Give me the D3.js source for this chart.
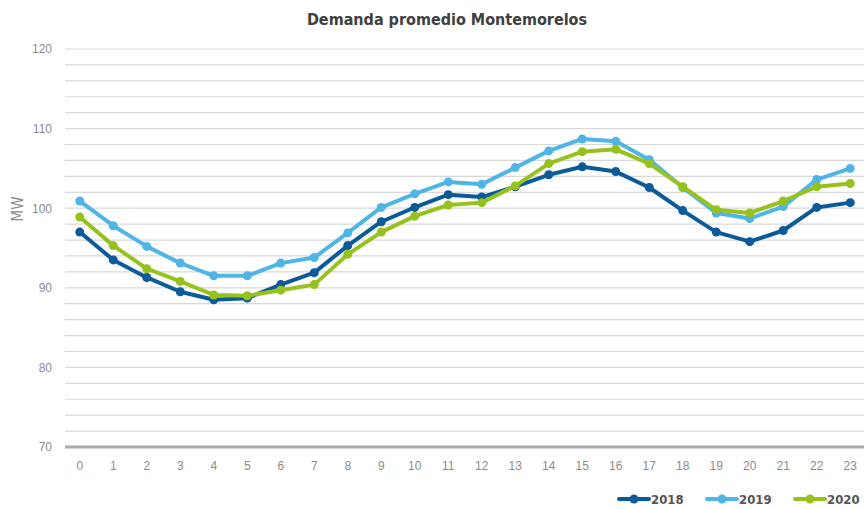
<!DOCTYPE html>
<html>
<head>
<meta charset="utf-8">
<script src="https://cdn.jsdelivr.net/npm/d3@7"></script>
<style>
    body { margin: 0; background: #fff; }
    svg { display: block; font-family: "DejaVu Sans Condensed", "DejaVu Sans", sans-serif; font-stretch: condensed; }
</style>
</head>
<body>
<svg id="chart" width="864" height="509"></svg>
<script>
//hours of the day
var hours = d3.range(0, 24);
var years = ["2018", "2019", "2020"];
var colors = ["#0b5a9a", "#4fb4e6", "#97c21d"];

//average demand (MW) per hour
var demand2018 = [97.0, 93.5, 91.3, 89.5, 88.5, 88.7, 90.4, 91.9, 95.3, 98.3, 100.1, 101.7,
    101.4, 102.7, 104.2, 105.2, 104.6, 102.6, 99.7, 97.0, 95.8, 97.2, 100.1, 100.7];
var demand2019 = [100.9, 97.8, 95.2, 93.1, 91.5, 91.5, 93.1, 93.8, 96.9, 100.1, 101.8, 103.3,
    103.0, 105.1, 107.2, 108.7, 108.4, 106.1, 102.6, 99.4, 98.7, 100.2, 103.6, 105.0];
var demand2020 = [98.9, 95.3, 92.4, 90.8, 89.1, 89.0, 89.7, 90.4, 94.2, 97.0, 99.0, 100.4,
    100.7, 102.8, 105.6, 107.1, 107.4, 105.6, 102.7, 99.8, 99.4, 100.9, 102.7, 103.1];

var yTicks = [70, 80, 90, 100, 110, 120];

var series = [demand2018, demand2019, demand2020];

var svg = d3.select("#chart");

var x = d3.scaleBand().domain(hours).range([63, 867]);
var y = d3.scaleLinear().domain([70, 120]).range([447, 49]);

//grid lines every 2 MW
var gridLines = d3.range(72, 121, 2);
svg.append("g")
    .selectAll("line")
    .data(gridLines)
    .enter().append("line")
    .attr("x1", 65)
    .attr("x2", 864)
    .attr("y1", function (d) { return y(d); })
    .attr("y2", function (d) { return y(d); })
    .style("stroke", "#d9d9d9")
    .style("stroke-width", 1.2);

//base axis line
svg.append("line")
    .attr("x1", 65).attr("x2", 864)
    .attr("y1", y(70)).attr("y2", y(70))
    .style("stroke", "#ababab")
    .style("stroke-width", 3);

//y tick labels
var yAxis = svg.append("g")
    .attr("transform", "translate(54,0)")
    .call(d3.axisLeft(y).tickValues(yTicks).tickSize(0).tickPadding(2));
yAxis.select(".domain").remove();
yAxis.selectAll("text")
    .style("font-size", "12px")
    .style("fill", "#8c8c8c")
    .style("font-family", "inherit");

//x tick labels
var xAxis = svg.append("g")
    .attr("transform", "translate(0,459)")
    .call(d3.axisBottom(x).tickSize(0).tickPadding(2));
xAxis.select(".domain").remove();
xAxis.selectAll("text")
    .style("font-size", "12px")
    .style("fill", "#8c8c8c")
    .style("font-family", "inherit");

//axis title
svg.append("text")
    .attr("transform", "translate(23,209) rotate(-90)")
    .attr("text-anchor", "middle")
    .style("font-size", "15px")
    .style("fill", "#8c8c8c")
    .text("MW");

//chart title
svg.append("text")
    .attr("x", 447)
    .attr("y", 25)
    .attr("text-anchor", "middle")
    .style("font-size", "16px")
    .style("font-weight", "bold")
    .style("fill", "#404040")
    .text("Demanda promedio Montemorelos");

var line = d3.line()
    .x(function (d, i) { return x(hours[i]) + x.bandwidth() / 2; })
    .y(function (d) { return y(d); });

//lines and markers
series.forEach(function (values, k) {
    var g = svg.append("g");
    g.append("path")
        .datum(values)
        .attr("d", line)
        .style("fill", "none")
        .style("stroke", colors[k])
        .style("stroke-width", 4)
        .style("stroke-linejoin", "round");
    g.selectAll("circle")
        .data(values)
        .enter().append("circle")
        .attr("cx", function (d, i) { return x(hours[i]) + x.bandwidth() / 2; })
        .attr("cy", function (d) { return y(d); })
        .attr("r", 4.5)
        .style("fill", colors[k]);
});

//legend
var legendX = [619, 707, 795];
years.forEach(function (year, k) {
    var lg = svg.append("g").attr("transform", "translate(" + legendX[k] + ",499)");
    lg.append("line")
        .attr("x1", 0).attr("x2", 30)
        .style("stroke", colors[k])
        .style("stroke-width", 4)
        .style("stroke-linecap", "round");
    lg.append("circle")
        .attr("cx", 15).attr("r", 4.5)
        .style("fill", colors[k]);
    lg.append("text")
        .attr("x", 32).attr("y", 5)
        .style("font-size", "13px")
        .style("font-weight", "bold")
        .style("fill", "#555555")
        .text(year);
});
</script>
</body>
</html>
